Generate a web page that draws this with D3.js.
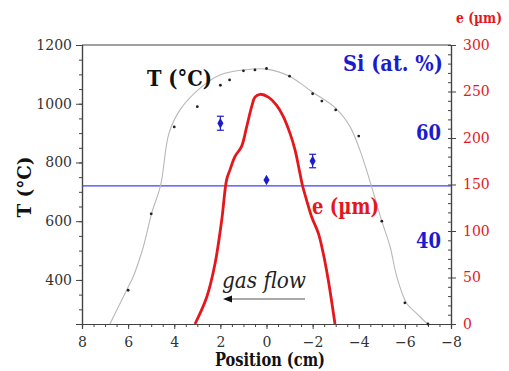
<!DOCTYPE html>
<html>
<head>
<meta charset="utf-8">
<script src="https://cdn.jsdelivr.net/npm/d3@7"></script>
<style>
  html, body { margin: 0; padding: 0; background: #fff; }
  svg { display: block; }
</style>
</head>
<body>
<svg id="chart" width="509" height="371"></svg>
<script>
// ---- data ----
const xTicks = [8, 6, 4, 2, 0, -2, -4, -6, -8];
const tTicks = [400, 600, 800, 1000, 1200];
const eTicks = [0, 50, 100, 150, 200, 250, 300];
const siLabels = [60, 40];

// measured temperature points
const tPointX = [6, 5, 4, 3, 2, 1.6, 1, 0.5, 0, -1, -2, -2.4, -3, -4, -5, -6, -7];
const tPointT = [365, 625, 921, 990, 1063, 1081, 1112, 1115, 1120, 1094, 1034, 1009, 979, 890, 600, 322, 250];

// smooth temperature profile (gray line)
const tCurveX = [6.79, 6.06, 5.78, 5.34, 4.98, 4.59, 4.23, 3.75, 2.88, 2.02, 1.0, 0.0, -1.0, -1.45, -1.97, -3.0, -3.62, -4.05, -4.49, -5.0, -5.36, -5.65, -6.08, -6.51, -6.95];
const tCurveT = [250, 366, 411, 513, 627, 723, 899, 979, 1053, 1098, 1115, 1118, 1094, 1071, 1041, 985, 922, 842, 735, 600, 513, 411, 320, 286, 252];

// deposit thickness e (um), red line
const eX = [3.10, 2.59, 2.23, 1.94, 1.73, 1.58, 1.37, 1.08, 0.86, 0.64, 0.50, 0.28, -0.08, -0.44, -0.73, -1.02, -1.24, -1.45, -1.55, -1.74, -1.96, -2.25, -2.46, -2.68, -2.97];
const eVal = [0, 29, 65, 112, 155, 166, 180, 191, 212, 234, 244, 247, 244, 235, 223, 205, 187, 162, 150, 133, 115, 97.5, 76, 47, 0];

// Si content (at. %)
const siX = [2, 0, -2];
const siVal = [61.6, 51.1, 54.6];
const siErr = [1.3, 0, 1.25];
const siRef = 50;

// ---- layout ----
const W = 509, H = 371;
const m = { left: 82, right: 58, top: 45, bottom: 47 };
const x0 = m.left, x1 = W - m.right, y0 = H - m.bottom, y1 = m.top;
const FONT = "font-family: 'DejaVu Serif', serif";

const svg = d3.select("#chart");

const x = d3.scaleLinear().domain([8, -8]).range([x0, x1]);
const yT = d3.scaleLinear().domain([250, 1200]).range([y0, y1]);
const yE = d3.scaleLinear().domain([0, 300]).range([y0, y1]);
const ySi = d3.scaleLinear().domain([24.4, 76.1]).range([y0, y1]);

const axisColor = "#444";
const red = "#e3171c";
const blue = "#1c1ccf";

svg.append("line").attr("x1", x0).attr("x2", x1).attr("y1", y1).attr("y2", y1)
  .attr("stroke", axisColor).attr("stroke-width", 1.2);

function styleAxis(g, color) {
  g.attr("font-family", null);
  g.select(".domain").attr("stroke", axisColor).attr("stroke-width", 1.2);
  g.selectAll(".tick line").attr("stroke", axisColor);
  g.selectAll("text").attr("font-size", 14).attr("fill", color).attr("style", FONT);
}

const gLmin = svg.append("g").attr("transform", `translate(${x0},0)`)
  .call(d3.axisLeft(yT).tickValues(d3.range(250, 1201, 50)).tickSize(3).tickFormat(""));
styleAxis(gLmin, "#333");
const gL = svg.append("g").attr("transform", `translate(${x0},0)`)
  .call(d3.axisLeft(yT).tickValues(tTicks).tickSize(6).tickPadding(4).tickFormat(d3.format("d")));
styleAxis(gL, "#333");

const gBmin = svg.append("g").attr("transform", `translate(0,${y0})`)
  .call(d3.axisBottom(x).tickValues(d3.range(-8, 8.01, 0.5)).tickSize(3).tickFormat(""));
styleAxis(gBmin, "#333");
const gB = svg.append("g").attr("transform", `translate(0,${y0})`)
  .call(d3.axisBottom(x).tickValues(xTicks).tickSize(5).tickPadding(8).tickFormat(d3.format("d")));
styleAxis(gB, "#333");

const gRmin = svg.append("g").attr("transform", `translate(${x1},0)`)
  .call(d3.axisRight(yE).tickValues(d3.range(0, 301, 10)).tickSize(-3).tickFormat(""));
styleAxis(gRmin, red);
const gR = svg.append("g").attr("transform", `translate(${x1},0)`)
  .call(d3.axisRight(yE).tickValues(eTicks).tickSize(5).tickPadding(7).tickFormat(d3.format("d")));
styleAxis(gR, red);

svg.append("line").attr("x1", x0).attr("x2", x1)
  .attr("y1", ySi(siRef)).attr("y2", ySi(siRef))
  .attr("stroke", "#3f3fff").attr("stroke-width", 1.2);

const tCurve = tCurveX.map((v, i) => [v, tCurveT[i]]);
svg.append("path").datum(tCurve)
  .attr("fill", "none").attr("stroke", "#b8b8b8").attr("stroke-width", 1.1)
  .attr("d", d3.line().x(d => x(d[0])).y(d => yT(d[1])).curve(d3.curveCatmullRom));

svg.append("g").selectAll("circle").data(tPointX.map((v, i) => [v, tPointT[i]]))
  .join("circle").attr("cx", d => x(d[0])).attr("cy", d => yT(d[1]))
  .attr("r", 1.4).attr("fill", "#222");

const eCurve = eX.map((v, i) => [v, eVal[i]]);
svg.append("path").datum(eCurve)
  .attr("fill", "none").attr("stroke", red).attr("stroke-width", 2.8)
  .attr("stroke-linejoin", "round")
  .attr("d", d3.line().x(d => x(d[0])).y(d => yE(d[1])).curve(d3.curveCatmullRom));

const siData = siX.map((v, i) => ({ x: v, y: siVal[i], e: siErr[i] }));
const gSi = svg.append("g");
siData.forEach(d => {
  if (d.e > 0) {
    const cx = x(d.x), ya = ySi(d.y + d.e), yb = ySi(d.y - d.e);
    gSi.append("line").attr("x1", cx).attr("x2", cx).attr("y1", ya).attr("y2", yb)
      .attr("stroke", blue).attr("stroke-width", 1.2);
    [ya, yb].forEach(yy => gSi.append("line").attr("x1", cx - 3.5).attr("x2", cx + 3.5)
      .attr("y1", yy).attr("y2", yy).attr("stroke", blue).attr("stroke-width", 1.2));
  }
  gSi.append("path").attr("d", d3.symbol(d3.symbolDiamond, 32)())
    .attr("transform", `translate(${x(d.x)},${ySi(d.y)})`).attr("fill", blue);
});

function txt(xp, yp, s, size, opts = {}) {
  const t = svg.append("text").attr("x", xp).attr("y", yp)
    .attr("font-size", size).attr("style", FONT)
    .attr("font-weight", opts.bold ? "bold" : "normal")
    .attr("font-style", opts.italic ? "italic" : "normal")
    .attr("fill", opts.fill || "#111")
    .attr("text-anchor", opts.anchor || "start").text(s);
  if (opts.transform) t.attr("transform", opts.transform);
  if (opts.dy) t.attr("dy", opts.dy);
  if (opts.len) t.attr("textLength", opts.len).attr("lengthAdjust", "spacingAndGlyphs");
  return t;
}

siLabels.forEach(v => txt(441, ySi(v), String(v), 23, { bold: true, fill: blue, anchor: "end", dy: "0.35em", len: 25 }));

txt(147, 86, "T (°C)", 22, { bold: true, len: 65 });
txt(443, 71, "Si (at. %)", 22, { bold: true, fill: blue, anchor: "end", len: 100 });
txt(312, 214, "e (µm)", 22, { bold: true, fill: red, len: 67 });
txt(222, 288, "gas flow", 23, { italic: true, fill: "#222", len: 84 });

svg.append("line").attr("x1", 305).attr("x2", 226).attr("y1", 299).attr("y2", 299)
  .attr("stroke", "#555").attr("stroke-width", 1);
svg.append("path").attr("d", "M223,299 L232,295.5 L232,302.5 Z").attr("fill", "#111");

txt(0, 0, "T (°C)", 19, { bold: true, anchor: "middle", transform: "translate(31,187) rotate(-90)", len: 61 });
txt(270, 366, "Position (cm)", 18, { bold: true, anchor: "middle", len: 110 });
txt(479, 23, "e (µm)", 14, { bold: true, anchor: "middle", fill: red, len: 46 });
</script>
</body>
</html>
